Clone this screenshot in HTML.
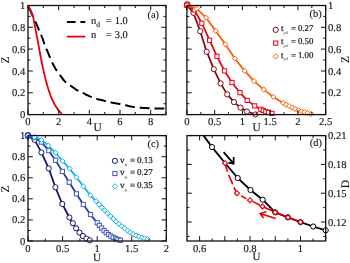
<!DOCTYPE html>
<html><head><meta charset="utf-8"><title>fig</title>
<style>html,body{margin:0;padding:0;background:#fff;}body{width:350px;height:263px;overflow:hidden;font-family:"Liberation Serif",serif;}svg{display:block;filter:blur(0.3px)}</style>
</head><body>
<svg width="350" height="263" viewBox="0 0 350 263" font-family="'Liberation Serif', serif" fill="#111" text-rendering="geometricPrecision">
<path d="M28.0 5.6 L28.4 6.5 L28.8 7.3 L29.2 8.2 L29.6 9.1 L30.0 10.0 L30.4 10.8 L30.8 11.7 L31.2 12.6 L31.6 13.5 L32.0 14.4 L32.4 15.2 L32.8 16.1 L33.2 17.0 L33.6 17.9 L34.0 18.7 L34.4 19.6 L34.8 20.5 L35.2 21.4 L35.6 22.2 L36.0 23.1 L36.4 24.0 L36.8 24.9 L37.2 25.7 L37.6 26.6 L37.9 27.5 L38.3 28.4 L38.7 29.3 L39.0 30.2 L39.4 31.1 L39.8 31.9 L40.2 32.8 L40.6 33.7 L41.0 34.6 L41.3 35.5 L41.7 36.4 L42.1 37.2 L42.4 38.1 L42.8 39.0 L43.1 39.9 L43.4 40.9 L43.7 41.8 L44.0 42.7 L44.3 43.6 L44.6 44.5 L44.9 45.4 L45.3 46.3 L45.7 47.2 L46.0 48.1 L46.4 49.0 L46.8 49.8 L47.2 50.7 L47.6 51.6 L48.0 52.5 L48.3 53.4 L48.7 54.3 L49.0 55.2 L49.4 56.1 L49.8 57.0 L50.1 57.8 L50.5 58.7 L50.9 59.6 L51.3 60.5 L51.7 61.4 L52.1 62.2 L52.5 63.1 L52.9 64.0 L53.4 64.8 L53.8 65.7 L54.3 66.5 L54.7 67.4 L55.2 68.2 L55.7 69.0 L56.2 69.9 L56.7 70.7 L57.3 71.4 L57.8 72.2 L58.4 73.0 L59.0 73.8 L59.5 74.5 L60.1 75.3 L60.7 76.1 L61.3 76.9 L61.9 77.6 L62.4 78.4 L63.0 79.2 L63.6 80.0 L64.2 80.7 L64.8 81.4 L65.5 82.0 L66.2 82.6 L67.0 83.2 L67.8 83.8 L68.6 84.3 L69.4 84.9 L70.2 85.4 L71.0 86.0 L71.8 86.5 L72.6 87.1 L73.4 87.6 L74.2 88.2 L75.0 88.8 L75.7 89.3 L76.6 89.8 L77.4 90.3 L78.2 90.7 L79.1 91.2 L80.0 91.6 L80.8 92.0 L81.7 92.4 L82.6 92.8 L83.5 93.2 L84.3 93.7 L85.2 94.1 L86.0 94.6 L86.9 95.0 L87.8 95.4 L88.6 95.8 L89.5 96.2 L90.4 96.6 L91.3 96.9 L92.2 97.3 L93.1 97.7 L94.0 98.0 L94.9 98.3 L95.8 98.6 L96.7 98.9 L97.6 99.2 L98.6 99.4 L99.5 99.6 L100.5 99.8 L101.4 100.0 L102.3 100.2 L103.3 100.4 L104.2 100.7 L105.1 100.9 L106.1 101.2 L107.0 101.4 L107.9 101.7 L108.8 101.9 L109.8 102.2 L110.7 102.4 L111.7 102.6 L112.6 102.8 L113.5 102.9 L114.5 103.1 L115.4 103.3 L116.4 103.4 L117.3 103.6 L118.3 103.8 L119.2 103.9 L120.2 104.1 L121.1 104.3 L122.1 104.5 L123.0 104.7 L124.0 104.9 L124.9 105.1 L125.8 105.3 L126.8 105.5 L127.7 105.8 L128.6 106.0 L129.6 106.2 L130.5 106.4 L131.5 106.6 L132.4 106.7 L133.4 106.9 L134.3 107.0 L135.3 107.1 L136.2 107.2 L137.2 107.4 L138.1 107.5 L139.1 107.6 L140.0 107.7 L141.0 107.7 L142.0 107.8 L142.9 107.9 L143.9 108.0 L144.8 108.0 L145.8 108.1 L146.8 108.1 L147.7 108.2 L148.7 108.2 L149.6 108.3 L150.6 108.3 L151.6 108.4 L152.5 108.4 L153.5 108.4 L154.5 108.4 L155.4 108.5 L156.4 108.5 L157.3 108.5 L158.3 108.5 L159.3 108.5 L160.2 108.5 L161.2 108.5 L162.2 108.5 L163.1 108.5 L164.1 108.4 L165.0 108.4 L166.0 108.4" fill="none" stroke="#000" stroke-width="2.0" stroke-dasharray="9.9 4.9" stroke-dashoffset="12.28"/>
<path d="M28.0 5.6 L28.8 6.8 L29.5 8.1 L30.2 9.4 L30.8 10.7 L31.4 12.0 L31.9 13.4 L32.4 14.8 L32.9 16.1 L33.3 17.5 L33.6 18.9 L33.9 20.4 L34.1 21.8 L34.4 23.2 L34.6 24.7 L34.9 26.1 L35.2 27.5 L35.5 29.0 L35.7 30.4 L36.0 31.8 L36.3 33.2 L36.5 34.7 L36.8 36.1 L37.1 37.5 L37.4 39.0 L37.6 40.4 L37.9 41.8 L38.2 43.2 L38.4 44.7 L38.7 46.1 L38.9 47.5 L39.2 49.0 L39.5 50.4 L39.7 51.8 L40.0 53.3 L40.3 54.7 L40.5 56.1 L40.8 57.5 L41.1 59.0 L41.4 60.4 L41.6 61.8 L41.9 63.2 L42.2 64.7 L42.5 66.1 L42.8 67.5 L43.2 68.9 L43.5 70.4 L43.8 71.8 L44.1 73.2 L44.4 74.6 L44.8 76.0 L45.1 77.5 L45.5 78.9 L45.8 80.3 L46.2 81.7 L46.6 83.1 L47.0 84.5 L47.4 85.9 L47.8 87.3 L48.2 88.6 L48.7 90.0 L49.1 91.4 L49.6 92.8 L50.1 94.2 L50.6 95.6 L51.1 96.9 L51.7 98.3 L52.3 99.6 L52.9 100.9 L53.5 102.2 L54.1 103.5 L54.8 104.8 L55.6 106.0 L56.4 107.2 L57.2 108.4 L58.1 109.6 L59.0 110.7 L59.9 111.9 L60.9 112.9 L61.9 114.0" fill="none" stroke="#e6000d" stroke-width="1.8"/>
<path d="M66.9 21.9 H75.6 M80.4 21.9 H85.3" stroke="#000" stroke-width="2.0" fill="none"/>
<path d="M66.9 36.6 H85.3" stroke="#e6000d" stroke-width="1.8" fill="none"/>
<rect x="28.0" y="5.5" width="138.0" height="109.1" fill="none" stroke="#111" stroke-width="1.3"/>
<path d="M28.0 114.6 v-4.8 M28.0 5.5 v4.8 M58.7 114.6 v-4.8 M58.7 5.5 v4.8 M89.3 114.6 v-4.8 M89.3 5.5 v4.8 M120.0 114.6 v-4.8 M120.0 5.5 v4.8 M150.7 114.6 v-4.8 M150.7 5.5 v4.8 M43.3 114.6 v-2.5 M43.3 5.5 v2.5 M74.0 114.6 v-2.5 M74.0 5.5 v2.5 M104.7 114.6 v-2.5 M104.7 5.5 v2.5 M135.3 114.6 v-2.5 M135.3 5.5 v2.5 M166.0 114.6 v-2.5 M166.0 5.5 v2.5 M28.0 114.6 h4.8 M166.0 114.6 h-4.8 M28.0 92.8 h4.8 M166.0 92.8 h-4.8 M28.0 71.0 h4.8 M166.0 71.0 h-4.8 M28.0 49.1 h4.8 M166.0 49.1 h-4.8 M28.0 27.3 h4.8 M166.0 27.3 h-4.8 M28.0 5.5 h4.8 M166.0 5.5 h-4.8 M28.0 103.7 h2.5 M166.0 103.7 h-2.5 M28.0 81.9 h2.5 M166.0 81.9 h-2.5 M28.0 60.0 h2.5 M166.0 60.0 h-2.5 M28.0 38.2 h2.5 M166.0 38.2 h-2.5 M28.0 16.4 h2.5 M166.0 16.4 h-2.5" stroke="#111" stroke-width="1.0" fill="none"/>
<text x="25.3" y="9.0" text-anchor="end" font-size="10.6" stroke="#111" stroke-width="0.12" >1</text>
<text x="25.3" y="30.8" text-anchor="end" font-size="10.6" stroke="#111" stroke-width="0.12" >0.8</text>
<text x="25.3" y="52.6" text-anchor="end" font-size="10.6" stroke="#111" stroke-width="0.12" >0.6</text>
<text x="25.3" y="74.5" text-anchor="end" font-size="10.6" stroke="#111" stroke-width="0.12" >0.4</text>
<text x="25.3" y="96.3" text-anchor="end" font-size="10.6" stroke="#111" stroke-width="0.12" >0.2</text>
<text x="25.3" y="118.1" text-anchor="end" font-size="10.6" stroke="#111" stroke-width="0.12" >0</text>
<text x="28.0" y="124.8" text-anchor="middle" font-size="10.6" stroke="#111" stroke-width="0.12" >0</text>
<text x="58.7" y="124.8" text-anchor="middle" font-size="10.6" stroke="#111" stroke-width="0.12" >2</text>
<text x="89.3" y="124.8" text-anchor="middle" font-size="10.6" stroke="#111" stroke-width="0.12" >4</text>
<text x="120.0" y="124.8" text-anchor="middle" font-size="10.6" stroke="#111" stroke-width="0.12" >6</text>
<text x="150.7" y="124.8" text-anchor="middle" font-size="10.6" stroke="#111" stroke-width="0.12" >8</text>
<text x="97.6" y="131.2" text-anchor="middle" font-size="11.3" stroke="#111" stroke-width="0.12" >U</text>
<text x="0.0" y="0.0" text-anchor="middle" font-size="11.5" stroke="#111" stroke-width="0.12" transform="translate(9.3 60) rotate(-90)">Z</text>
<text x="90.9" y="23.8" text-anchor="start" font-size="10.5" stroke="#111" stroke-width="0.12" >n<tspan font-size="7.5" dy="3.6">d</tspan></text>
<text x="105.8" y="23.8" text-anchor="start" font-size="10.5" stroke="#111" stroke-width="0.12" >=</text>
<text x="114.7" y="23.8" text-anchor="start" font-size="10.5" stroke="#111" stroke-width="0.12" >1.0</text>
<text x="90.9" y="38.0" text-anchor="start" font-size="10.5" stroke="#111" stroke-width="0.12" >n</text>
<text x="105.8" y="38.0" text-anchor="start" font-size="10.5" stroke="#111" stroke-width="0.12" >=</text>
<text x="114.7" y="38.0" text-anchor="start" font-size="10.5" stroke="#111" stroke-width="0.12" >3.0</text>
<text x="153.2" y="18.3" text-anchor="middle" font-size="10.4" stroke="#111" stroke-width="0.12" >(a)</text>
<path d="M186.9 5.3 L193.4 12.9 L200.2 31.2 L206.7 51.7 L213.8 69.2 L220.6 83.4 L227.2 94.4 L234.0 102.1 L240.5 107.6 L246.9 111.5 L255.5 114.4" fill="none" stroke="#800810" stroke-width="1.75" stroke-linejoin="round"/>
<circle cx="186.9" cy="5.3" r="2.6" fill="#fff" stroke="#800810" stroke-width="1.0"/>
<circle cx="193.4" cy="12.9" r="2.6" fill="#fff" stroke="#800810" stroke-width="1.0"/>
<circle cx="200.2" cy="31.2" r="2.6" fill="#fff" stroke="#800810" stroke-width="1.0"/>
<circle cx="206.7" cy="51.7" r="2.6" fill="#fff" stroke="#800810" stroke-width="1.0"/>
<circle cx="213.8" cy="69.2" r="2.6" fill="#fff" stroke="#800810" stroke-width="1.0"/>
<circle cx="220.6" cy="83.4" r="2.6" fill="#fff" stroke="#800810" stroke-width="1.0"/>
<circle cx="227.2" cy="94.4" r="2.6" fill="#fff" stroke="#800810" stroke-width="1.0"/>
<circle cx="234.0" cy="102.1" r="2.6" fill="#fff" stroke="#800810" stroke-width="1.0"/>
<circle cx="240.5" cy="107.6" r="2.6" fill="#fff" stroke="#800810" stroke-width="1.0"/>
<circle cx="246.9" cy="111.5" r="2.6" fill="#fff" stroke="#800810" stroke-width="1.0"/>
<circle cx="255.5" cy="114.4" r="2.6" fill="#fff" stroke="#800810" stroke-width="1.0"/>
<path d="M186.9 5.3 L194.4 9.9 L201.8 23.2 L209.6 40.3 L217.0 56.3 L224.5 70.9 L232.0 82.5 L240.0 92.7 L247.2 100.4 L254.7 105.9 L260.8 109.3 L263.3 110.4 L265.8 111.6 L268.4 112.4 L271.9 113.4" fill="none" stroke="#ea0018" stroke-width="1.75" stroke-linejoin="round"/>
<rect x="184.8" y="3.2" width="4.2" height="4.2" fill="#fff" stroke="#ea0018" stroke-width="1.0"/>
<rect x="192.3" y="7.8" width="4.2" height="4.2" fill="#fff" stroke="#ea0018" stroke-width="1.0"/>
<rect x="199.7" y="21.1" width="4.2" height="4.2" fill="#fff" stroke="#ea0018" stroke-width="1.0"/>
<rect x="207.5" y="38.2" width="4.2" height="4.2" fill="#fff" stroke="#ea0018" stroke-width="1.0"/>
<rect x="214.9" y="54.2" width="4.2" height="4.2" fill="#fff" stroke="#ea0018" stroke-width="1.0"/>
<rect x="222.4" y="68.8" width="4.2" height="4.2" fill="#fff" stroke="#ea0018" stroke-width="1.0"/>
<rect x="229.9" y="80.4" width="4.2" height="4.2" fill="#fff" stroke="#ea0018" stroke-width="1.0"/>
<rect x="237.9" y="90.6" width="4.2" height="4.2" fill="#fff" stroke="#ea0018" stroke-width="1.0"/>
<rect x="245.1" y="98.3" width="4.2" height="4.2" fill="#fff" stroke="#ea0018" stroke-width="1.0"/>
<rect x="252.6" y="103.8" width="4.2" height="4.2" fill="#fff" stroke="#ea0018" stroke-width="1.0"/>
<rect x="258.7" y="107.2" width="4.2" height="4.2" fill="#fff" stroke="#ea0018" stroke-width="1.0"/>
<rect x="261.2" y="108.3" width="4.2" height="4.2" fill="#fff" stroke="#ea0018" stroke-width="1.0"/>
<rect x="263.7" y="109.5" width="4.2" height="4.2" fill="#fff" stroke="#ea0018" stroke-width="1.0"/>
<rect x="266.3" y="110.3" width="4.2" height="4.2" fill="#fff" stroke="#ea0018" stroke-width="1.0"/>
<rect x="269.8" y="111.3" width="4.2" height="4.2" fill="#fff" stroke="#ea0018" stroke-width="1.0"/>
<path d="M186.9 5.3 L196.6 8.6 L206.1 17.7 L215.7 30.9 L225.3 44.3 L234.8 58.5 L244.7 70.9 L254.0 81.1 L263.8 89.6 L273.4 96.9 L283.1 103.0 L286.2 104.7 L289.2 106.1 L292.3 107.6 L295.1 108.9 L298.3 110.2 L301.4 111.3 L304.3 112.1 L307.5 112.9 L311.1 113.9" fill="none" stroke="#f55f00" stroke-width="1.75" stroke-linejoin="round"/>
<path d="M184.3 5.3 L186.9 2.7 L189.5 5.3 L186.9 7.9 Z" fill="#fff" stroke="#f55f00" stroke-width="1.0"/>
<path d="M194.0 8.6 L196.6 6.0 L199.2 8.6 L196.6 11.2 Z" fill="#fff" stroke="#f55f00" stroke-width="1.0"/>
<path d="M203.5 17.7 L206.1 15.1 L208.7 17.7 L206.1 20.3 Z" fill="#fff" stroke="#f55f00" stroke-width="1.0"/>
<path d="M213.1 30.9 L215.7 28.3 L218.3 30.9 L215.7 33.5 Z" fill="#fff" stroke="#f55f00" stroke-width="1.0"/>
<path d="M222.7 44.3 L225.3 41.7 L227.9 44.3 L225.3 46.9 Z" fill="#fff" stroke="#f55f00" stroke-width="1.0"/>
<path d="M232.2 58.5 L234.8 55.9 L237.4 58.5 L234.8 61.1 Z" fill="#fff" stroke="#f55f00" stroke-width="1.0"/>
<path d="M242.1 70.9 L244.7 68.3 L247.3 70.9 L244.7 73.5 Z" fill="#fff" stroke="#f55f00" stroke-width="1.0"/>
<path d="M251.4 81.1 L254.0 78.5 L256.6 81.1 L254.0 83.7 Z" fill="#fff" stroke="#f55f00" stroke-width="1.0"/>
<path d="M261.2 89.6 L263.8 87.0 L266.4 89.6 L263.8 92.2 Z" fill="#fff" stroke="#f55f00" stroke-width="1.0"/>
<path d="M270.8 96.9 L273.4 94.3 L276.0 96.9 L273.4 99.5 Z" fill="#fff" stroke="#f55f00" stroke-width="1.0"/>
<path d="M280.5 103.0 L283.1 100.4 L285.7 103.0 L283.1 105.6 Z" fill="#fff" stroke="#f55f00" stroke-width="1.0"/>
<path d="M283.6 104.7 L286.2 102.1 L288.8 104.7 L286.2 107.3 Z" fill="#fff" stroke="#f55f00" stroke-width="1.0"/>
<path d="M286.6 106.1 L289.2 103.5 L291.8 106.1 L289.2 108.7 Z" fill="#fff" stroke="#f55f00" stroke-width="1.0"/>
<path d="M289.7 107.6 L292.3 105.0 L294.9 107.6 L292.3 110.2 Z" fill="#fff" stroke="#f55f00" stroke-width="1.0"/>
<path d="M292.5 108.9 L295.1 106.3 L297.7 108.9 L295.1 111.5 Z" fill="#fff" stroke="#f55f00" stroke-width="1.0"/>
<path d="M295.7 110.2 L298.3 107.6 L300.9 110.2 L298.3 112.8 Z" fill="#fff" stroke="#f55f00" stroke-width="1.0"/>
<path d="M298.8 111.3 L301.4 108.7 L304.0 111.3 L301.4 113.9 Z" fill="#fff" stroke="#f55f00" stroke-width="1.0"/>
<path d="M301.7 112.1 L304.3 109.5 L306.9 112.1 L304.3 114.7 Z" fill="#fff" stroke="#f55f00" stroke-width="1.0"/>
<path d="M304.9 112.9 L307.5 110.3 L310.1 112.9 L307.5 115.5 Z" fill="#fff" stroke="#f55f00" stroke-width="1.0"/>
<path d="M308.5 113.9 L311.1 111.3 L313.7 113.9 L311.1 116.5 Z" fill="#fff" stroke="#f55f00" stroke-width="1.0"/>
<circle cx="187.2" cy="4.6" r="2.7" fill="none" stroke="#f01810" stroke-width="1.1"/>
<rect x="186.9" y="5.5" width="138.8" height="109.1" fill="none" stroke="#111" stroke-width="1.3"/>
<path d="M186.9 114.6 v-4.8 M186.9 5.5 v4.8 M214.7 114.6 v-4.8 M214.7 5.5 v4.8 M242.4 114.6 v-4.8 M242.4 5.5 v4.8 M270.2 114.6 v-4.8 M270.2 5.5 v4.8 M297.9 114.6 v-4.8 M297.9 5.5 v4.8 M325.7 114.6 v-4.8 M325.7 5.5 v4.8 M200.8 114.6 v-2.5 M200.8 5.5 v2.5 M228.5 114.6 v-2.5 M228.5 5.5 v2.5 M256.3 114.6 v-2.5 M256.3 5.5 v2.5 M284.1 114.6 v-2.5 M284.1 5.5 v2.5 M311.8 114.6 v-2.5 M311.8 5.5 v2.5 M186.9 114.6 h4.8 M325.7 114.6 h-4.8 M186.9 92.8 h4.8 M325.7 92.8 h-4.8 M186.9 71.0 h4.8 M325.7 71.0 h-4.8 M186.9 49.1 h4.8 M325.7 49.1 h-4.8 M186.9 27.3 h4.8 M325.7 27.3 h-4.8 M186.9 5.5 h4.8 M325.7 5.5 h-4.8 M186.9 103.7 h2.5 M325.7 103.7 h-2.5 M186.9 81.9 h2.5 M325.7 81.9 h-2.5 M186.9 60.0 h2.5 M325.7 60.0 h-2.5 M186.9 38.2 h2.5 M325.7 38.2 h-2.5 M186.9 16.4 h2.5 M325.7 16.4 h-2.5" stroke="#111" stroke-width="1.0" fill="none"/>
<text x="328.0" y="9.0" text-anchor="start" font-size="10.6" stroke="#111" stroke-width="0.12" >1</text>
<text x="328.0" y="30.8" text-anchor="start" font-size="10.6" stroke="#111" stroke-width="0.12" >0.8</text>
<text x="328.0" y="52.6" text-anchor="start" font-size="10.6" stroke="#111" stroke-width="0.12" >0.6</text>
<text x="328.0" y="74.5" text-anchor="start" font-size="10.6" stroke="#111" stroke-width="0.12" >0.4</text>
<text x="328.0" y="96.3" text-anchor="start" font-size="10.6" stroke="#111" stroke-width="0.12" >0.2</text>
<text x="186.9" y="124.8" text-anchor="middle" font-size="10.6" stroke="#111" stroke-width="0.12" >0</text>
<text x="214.7" y="124.8" text-anchor="middle" font-size="10.6" stroke="#111" stroke-width="0.12" >0.5</text>
<text x="242.4" y="124.8" text-anchor="middle" font-size="10.6" stroke="#111" stroke-width="0.12" >1</text>
<text x="270.2" y="124.8" text-anchor="middle" font-size="10.6" stroke="#111" stroke-width="0.12" >1.5</text>
<text x="297.9" y="124.8" text-anchor="middle" font-size="10.6" stroke="#111" stroke-width="0.12" >2</text>
<text x="325.7" y="124.8" text-anchor="middle" font-size="10.6" stroke="#111" stroke-width="0.12" >2.5</text>
<text x="256.7" y="131.2" text-anchor="middle" font-size="11.3" stroke="#111" stroke-width="0.12" >U</text>
<text x="0.0" y="0.0" text-anchor="middle" font-size="11.5" stroke="#111" stroke-width="0.12" transform="translate(348.6 59.5) rotate(-90)">Z</text>
<circle cx="275.7" cy="29.9" r="2.6" fill="#fff" stroke="#800810" stroke-width="1.0"/>
<rect x="273.6" y="41.0" width="4.2" height="4.2" fill="#fff" stroke="#ea0018" stroke-width="1.0"/>
<path d="M273.1 56.4 L275.7 53.8 L278.3 56.4 L275.7 59.0 Z" fill="#fff" stroke="#f55f00" stroke-width="1.0"/>
<text x="281.0" y="30.9" text-anchor="start" font-size="8.8" stroke="#111" stroke-width="0.2" >t<tspan font-size="4.5" dy="2.6" fill="#444" stroke-width="0">pd</tspan></text>
<text x="291.0" y="30.9" text-anchor="start" font-size="8.8" stroke="#111" stroke-width="0.2" >=</text>
<text x="297.9" y="30.9" text-anchor="start" font-size="8.8" stroke="#111" stroke-width="0.2" >0.27</text>
<text x="281.0" y="44.1" text-anchor="start" font-size="8.8" stroke="#111" stroke-width="0.2" >t<tspan font-size="4.5" dy="2.6" fill="#444" stroke-width="0">pd</tspan></text>
<text x="291.0" y="44.1" text-anchor="start" font-size="8.8" stroke="#111" stroke-width="0.2" >=</text>
<text x="297.9" y="44.1" text-anchor="start" font-size="8.8" stroke="#111" stroke-width="0.2" >0.50</text>
<text x="281.0" y="57.5" text-anchor="start" font-size="8.8" stroke="#111" stroke-width="0.2" >t<tspan font-size="4.5" dy="2.6" fill="#444" stroke-width="0">pd</tspan></text>
<text x="291.0" y="57.5" text-anchor="start" font-size="8.8" stroke="#111" stroke-width="0.2" >=</text>
<text x="297.9" y="57.5" text-anchor="start" font-size="8.8" stroke="#111" stroke-width="0.2" >1.00</text>
<text x="315.6" y="17.0" text-anchor="middle" font-size="10.4" stroke="#111" stroke-width="0.12" >(b)</text>
<path d="M27.8 135.8 L34.6 139.9 L41.4 152.4 L48.7 168.4 L55.4 187.3 L62.3 204.0 L69.4 217.5 L72.8 223.2 L76.1 228.3 L79.5 232.6 L82.9 236.0 L86.4 238.6 L89.8 240.3" fill="none" stroke="#12126e" stroke-width="1.75" stroke-linejoin="round"/>
<circle cx="27.8" cy="135.8" r="2.6" fill="#fff" stroke="#12126e" stroke-width="1.0"/>
<circle cx="34.6" cy="139.9" r="2.6" fill="#fff" stroke="#12126e" stroke-width="1.0"/>
<circle cx="41.4" cy="152.4" r="2.6" fill="#fff" stroke="#12126e" stroke-width="1.0"/>
<circle cx="48.7" cy="168.4" r="2.6" fill="#fff" stroke="#12126e" stroke-width="1.0"/>
<circle cx="55.4" cy="187.3" r="2.6" fill="#fff" stroke="#12126e" stroke-width="1.0"/>
<circle cx="62.3" cy="204.0" r="2.6" fill="#fff" stroke="#12126e" stroke-width="1.0"/>
<circle cx="69.4" cy="217.5" r="2.6" fill="#fff" stroke="#12126e" stroke-width="1.0"/>
<circle cx="72.8" cy="223.2" r="2.6" fill="#fff" stroke="#12126e" stroke-width="1.0"/>
<circle cx="76.1" cy="228.3" r="2.6" fill="#fff" stroke="#12126e" stroke-width="1.0"/>
<circle cx="79.5" cy="232.6" r="2.6" fill="#fff" stroke="#12126e" stroke-width="1.0"/>
<circle cx="82.9" cy="236.0" r="2.6" fill="#fff" stroke="#12126e" stroke-width="1.0"/>
<circle cx="86.4" cy="238.6" r="2.6" fill="#fff" stroke="#12126e" stroke-width="1.0"/>
<circle cx="89.8" cy="240.3" r="2.6" fill="#fff" stroke="#12126e" stroke-width="1.0"/>
<path d="M27.8 135.8 L34.6 137.6 L41.4 142.1 L48.8 150.7 L55.5 160.2 L62.4 171.4 L69.2 182.2 L76.4 193.8 L83.3 204.5 L90.5 214.6 L97.2 222.8 L99.4 225.4 L101.7 228.1 L104.1 230.6 L106.3 232.7 L108.5 234.5 L110.8 236.0 L113.2 237.3 L115.7 238.5 L118.0 239.5 L120.3 240.3" fill="none" stroke="#2038a0" stroke-width="1.75" stroke-linejoin="round"/>
<rect x="25.7" y="133.7" width="4.2" height="4.2" fill="#fff" stroke="#4358b8" stroke-width="1.0"/>
<rect x="32.5" y="135.5" width="4.2" height="4.2" fill="#fff" stroke="#4358b8" stroke-width="1.0"/>
<rect x="39.3" y="140.0" width="4.2" height="4.2" fill="#fff" stroke="#4358b8" stroke-width="1.0"/>
<rect x="46.7" y="148.6" width="4.2" height="4.2" fill="#fff" stroke="#4358b8" stroke-width="1.0"/>
<rect x="53.4" y="158.1" width="4.2" height="4.2" fill="#fff" stroke="#4358b8" stroke-width="1.0"/>
<rect x="60.3" y="169.3" width="4.2" height="4.2" fill="#fff" stroke="#4358b8" stroke-width="1.0"/>
<rect x="67.1" y="180.1" width="4.2" height="4.2" fill="#fff" stroke="#4358b8" stroke-width="1.0"/>
<rect x="74.3" y="191.7" width="4.2" height="4.2" fill="#fff" stroke="#4358b8" stroke-width="1.0"/>
<rect x="81.2" y="202.4" width="4.2" height="4.2" fill="#fff" stroke="#4358b8" stroke-width="1.0"/>
<rect x="88.4" y="212.5" width="4.2" height="4.2" fill="#fff" stroke="#4358b8" stroke-width="1.0"/>
<rect x="95.1" y="220.7" width="4.2" height="4.2" fill="#fff" stroke="#4358b8" stroke-width="1.0"/>
<rect x="97.3" y="223.3" width="4.2" height="4.2" fill="#fff" stroke="#4358b8" stroke-width="1.0"/>
<rect x="99.6" y="226.0" width="4.2" height="4.2" fill="#fff" stroke="#4358b8" stroke-width="1.0"/>
<rect x="102.0" y="228.5" width="4.2" height="4.2" fill="#fff" stroke="#4358b8" stroke-width="1.0"/>
<rect x="104.2" y="230.6" width="4.2" height="4.2" fill="#fff" stroke="#4358b8" stroke-width="1.0"/>
<rect x="106.4" y="232.4" width="4.2" height="4.2" fill="#fff" stroke="#4358b8" stroke-width="1.0"/>
<rect x="108.7" y="233.9" width="4.2" height="4.2" fill="#fff" stroke="#4358b8" stroke-width="1.0"/>
<rect x="111.1" y="235.2" width="4.2" height="4.2" fill="#fff" stroke="#4358b8" stroke-width="1.0"/>
<rect x="113.6" y="236.4" width="4.2" height="4.2" fill="#fff" stroke="#4358b8" stroke-width="1.0"/>
<rect x="115.9" y="237.4" width="4.2" height="4.2" fill="#fff" stroke="#4358b8" stroke-width="1.0"/>
<rect x="118.2" y="238.2" width="4.2" height="4.2" fill="#fff" stroke="#4358b8" stroke-width="1.0"/>
<path d="M27.8 135.8 L34.6 136.8 L41.4 139.9 L48.3 145.6 L55.5 152.8 L62.5 161.0 L69.6 168.6 L76.4 177.3 L83.4 186.4 L90.3 195.3 L96.2 201.2 L99.0 204.4 L101.9 207.4 L104.7 210.4 L107.6 213.3 L110.4 216.1 L113.3 218.9 L116.1 221.5 L119.0 223.9 L121.8 226.2 L124.7 228.4 L127.5 230.5 L130.4 232.5 L133.2 234.1 L136.1 235.5 L138.9 236.7 L141.8 237.6 L144.6 238.5 L147.5 239.2" fill="none" stroke="#12b0e8" stroke-width="1.75" stroke-linejoin="round"/>
<path d="M25.2 135.8 L27.8 133.2 L30.4 135.8 L27.8 138.4 Z" fill="#fff" stroke="#12b0e8" stroke-width="1.0"/>
<path d="M32.0 136.8 L34.6 134.2 L37.2 136.8 L34.6 139.4 Z" fill="#fff" stroke="#12b0e8" stroke-width="1.0"/>
<path d="M38.8 139.9 L41.4 137.3 L44.0 139.9 L41.4 142.5 Z" fill="#fff" stroke="#12b0e8" stroke-width="1.0"/>
<path d="M45.7 145.6 L48.3 143.0 L50.9 145.6 L48.3 148.2 Z" fill="#fff" stroke="#12b0e8" stroke-width="1.0"/>
<path d="M52.9 152.8 L55.5 150.2 L58.1 152.8 L55.5 155.4 Z" fill="#fff" stroke="#12b0e8" stroke-width="1.0"/>
<path d="M59.9 161.0 L62.5 158.4 L65.1 161.0 L62.5 163.6 Z" fill="#fff" stroke="#12b0e8" stroke-width="1.0"/>
<path d="M67.0 168.6 L69.6 166.0 L72.2 168.6 L69.6 171.2 Z" fill="#fff" stroke="#12b0e8" stroke-width="1.0"/>
<path d="M73.8 177.3 L76.4 174.7 L79.0 177.3 L76.4 179.9 Z" fill="#fff" stroke="#12b0e8" stroke-width="1.0"/>
<path d="M80.8 186.4 L83.4 183.8 L86.0 186.4 L83.4 189.0 Z" fill="#fff" stroke="#12b0e8" stroke-width="1.0"/>
<path d="M87.7 195.3 L90.3 192.7 L92.9 195.3 L90.3 197.9 Z" fill="#fff" stroke="#12b0e8" stroke-width="1.0"/>
<path d="M93.6 201.2 L96.2 198.6 L98.8 201.2 L96.2 203.8 Z" fill="#fff" stroke="#12b0e8" stroke-width="1.0"/>
<path d="M96.5 204.4 L99.0 201.8 L101.6 204.4 L99.0 207.0 Z" fill="#fff" stroke="#12b0e8" stroke-width="1.0"/>
<path d="M99.3 207.4 L101.9 204.8 L104.5 207.4 L101.9 210.0 Z" fill="#fff" stroke="#12b0e8" stroke-width="1.0"/>
<path d="M102.1 210.4 L104.7 207.8 L107.3 210.4 L104.7 213.0 Z" fill="#fff" stroke="#12b0e8" stroke-width="1.0"/>
<path d="M105.0 213.3 L107.6 210.7 L110.2 213.3 L107.6 215.9 Z" fill="#fff" stroke="#12b0e8" stroke-width="1.0"/>
<path d="M107.8 216.1 L110.4 213.5 L113.0 216.1 L110.4 218.7 Z" fill="#fff" stroke="#12b0e8" stroke-width="1.0"/>
<path d="M110.7 218.9 L113.3 216.3 L115.9 218.9 L113.3 221.5 Z" fill="#fff" stroke="#12b0e8" stroke-width="1.0"/>
<path d="M113.5 221.5 L116.1 218.9 L118.7 221.5 L116.1 224.1 Z" fill="#fff" stroke="#12b0e8" stroke-width="1.0"/>
<path d="M116.4 223.9 L119.0 221.3 L121.6 223.9 L119.0 226.5 Z" fill="#fff" stroke="#12b0e8" stroke-width="1.0"/>
<path d="M119.2 226.2 L121.8 223.6 L124.4 226.2 L121.8 228.8 Z" fill="#fff" stroke="#12b0e8" stroke-width="1.0"/>
<path d="M122.1 228.4 L124.7 225.8 L127.3 228.4 L124.7 231.0 Z" fill="#fff" stroke="#12b0e8" stroke-width="1.0"/>
<path d="M124.9 230.5 L127.5 227.9 L130.1 230.5 L127.5 233.1 Z" fill="#fff" stroke="#12b0e8" stroke-width="1.0"/>
<path d="M127.8 232.5 L130.4 229.9 L133.0 232.5 L130.4 235.1 Z" fill="#fff" stroke="#12b0e8" stroke-width="1.0"/>
<path d="M130.6 234.1 L133.2 231.5 L135.8 234.1 L133.2 236.7 Z" fill="#fff" stroke="#12b0e8" stroke-width="1.0"/>
<path d="M133.5 235.5 L136.1 232.9 L138.7 235.5 L136.1 238.1 Z" fill="#fff" stroke="#12b0e8" stroke-width="1.0"/>
<path d="M136.3 236.7 L138.9 234.1 L141.5 236.7 L138.9 239.3 Z" fill="#fff" stroke="#12b0e8" stroke-width="1.0"/>
<path d="M139.2 237.6 L141.8 235.0 L144.4 237.6 L141.8 240.2 Z" fill="#fff" stroke="#12b0e8" stroke-width="1.0"/>
<path d="M142.0 238.5 L144.6 235.9 L147.2 238.5 L144.6 241.1 Z" fill="#fff" stroke="#12b0e8" stroke-width="1.0"/>
<path d="M144.9 239.2 L147.5 236.6 L150.1 239.2 L147.5 241.8 Z" fill="#fff" stroke="#12b0e8" stroke-width="1.0"/>
<circle cx="28.0" cy="135.2" r="2.7" fill="none" stroke="#2848c8" stroke-width="1.1"/>
<rect x="28.0" y="135.6" width="138.3" height="105.4" fill="none" stroke="#111" stroke-width="1.3"/>
<path d="M28.0 241.0 v-4.8 M28.0 135.6 v4.8 M62.6 241.0 v-4.8 M62.6 135.6 v4.8 M97.2 241.0 v-4.8 M97.2 135.6 v4.8 M131.7 241.0 v-4.8 M131.7 135.6 v4.8 M166.3 241.0 v-4.8 M166.3 135.6 v4.8 M45.3 241.0 v-2.5 M45.3 135.6 v2.5 M79.9 241.0 v-2.5 M79.9 135.6 v2.5 M114.4 241.0 v-2.5 M114.4 135.6 v2.5 M149.0 241.0 v-2.5 M149.0 135.6 v2.5 M28.0 241.0 h4.8 M166.3 241.0 h-4.8 M28.0 219.9 h4.8 M166.3 219.9 h-4.8 M28.0 198.8 h4.8 M166.3 198.8 h-4.8 M28.0 177.8 h4.8 M166.3 177.8 h-4.8 M28.0 156.7 h4.8 M166.3 156.7 h-4.8 M28.0 135.6 h4.8 M166.3 135.6 h-4.8 M28.0 230.5 h2.5 M166.3 230.5 h-2.5 M28.0 209.4 h2.5 M166.3 209.4 h-2.5 M28.0 188.3 h2.5 M166.3 188.3 h-2.5 M28.0 167.2 h2.5 M166.3 167.2 h-2.5 M28.0 146.1 h2.5 M166.3 146.1 h-2.5" stroke="#111" stroke-width="1.0" fill="none"/>
<text x="25.3" y="139.1" text-anchor="end" font-size="10.6" stroke="#111" stroke-width="0.12" >1</text>
<text x="25.3" y="160.2" text-anchor="end" font-size="10.6" stroke="#111" stroke-width="0.12" >0.8</text>
<text x="25.3" y="181.3" text-anchor="end" font-size="10.6" stroke="#111" stroke-width="0.12" >0.6</text>
<text x="25.3" y="202.3" text-anchor="end" font-size="10.6" stroke="#111" stroke-width="0.12" >0.4</text>
<text x="25.3" y="223.4" text-anchor="end" font-size="10.6" stroke="#111" stroke-width="0.12" >0.2</text>
<text x="25.3" y="244.5" text-anchor="end" font-size="10.6" stroke="#111" stroke-width="0.12" >0</text>
<text x="28.0" y="251.6" text-anchor="middle" font-size="10.6" stroke="#111" stroke-width="0.12" >0</text>
<text x="62.6" y="251.6" text-anchor="middle" font-size="10.6" stroke="#111" stroke-width="0.12" >0.5</text>
<text x="97.2" y="251.6" text-anchor="middle" font-size="10.6" stroke="#111" stroke-width="0.12" >1</text>
<text x="131.7" y="251.6" text-anchor="middle" font-size="10.6" stroke="#111" stroke-width="0.12" >1.5</text>
<text x="166.3" y="251.6" text-anchor="middle" font-size="10.6" stroke="#111" stroke-width="0.12" >2</text>
<text x="96.9" y="260.5" text-anchor="middle" font-size="11.0" stroke="#111" stroke-width="0.12" >U</text>
<text x="0.0" y="0.0" text-anchor="middle" font-size="11.5" stroke="#111" stroke-width="0.12" transform="translate(9.3 189) rotate(-90)">Z</text>
<circle cx="114.9" cy="160.9" r="2.6" fill="#fff" stroke="#12126e" stroke-width="1.0"/>
<rect x="112.8" y="171.4" width="4.2" height="4.2" fill="#fff" stroke="#4358b8" stroke-width="1.0"/>
<path d="M112.3 186.3 L114.9 183.7 L117.5 186.3 L114.9 188.9 Z" fill="#fff" stroke="#12b0e8" stroke-width="1.0"/>
<text x="120.1" y="162.6" text-anchor="start" font-size="9.0" stroke="#111" stroke-width="0.2" >v</text>
<circle cx="125.9" cy="164.9" r="1.2" fill="#999"/>
<text x="130.0" y="162.6" text-anchor="start" font-size="9.0" stroke="#111" stroke-width="0.2" >=</text>
<text x="136.9" y="162.6" text-anchor="start" font-size="9.0" stroke="#111" stroke-width="0.2" >0.13</text>
<text x="120.1" y="175.2" text-anchor="start" font-size="9.0" stroke="#111" stroke-width="0.2" >v</text>
<circle cx="125.9" cy="177.5" r="1.2" fill="#999"/>
<text x="130.0" y="175.2" text-anchor="start" font-size="9.0" stroke="#111" stroke-width="0.2" >=</text>
<text x="136.9" y="175.2" text-anchor="start" font-size="9.0" stroke="#111" stroke-width="0.2" >0.27</text>
<text x="120.1" y="188.1" text-anchor="start" font-size="9.0" stroke="#111" stroke-width="0.2" >v</text>
<circle cx="125.9" cy="190.4" r="1.2" fill="#999"/>
<text x="130.0" y="188.1" text-anchor="start" font-size="9.0" stroke="#111" stroke-width="0.2" >=</text>
<text x="136.9" y="188.1" text-anchor="start" font-size="9.0" stroke="#111" stroke-width="0.2" >0.35</text>
<text x="153.3" y="146.8" text-anchor="middle" font-size="10.4" stroke="#111" stroke-width="0.12" >(c)</text>
<path d="M203.6 135.6 L212.0 147.1 L225.0 163.0 L237.7 178.0 L250.5 190.0 L262.7 199.7 L275.2 212.3 L287.9 217.3 L300.5 222.1 L313.2 226.5 L325.7 230.3" fill="none" stroke="#000" stroke-width="1.8" stroke-linejoin="round"/>
<path d="M225 163.4 L227.6 171.7 M228.6 174.9 L232.8 184.3 M233.8 187.4 L237 193.3 M241.2 195.8 L246.4 198.9 M252.7 201.4 L260 205.2 M262.5 206.4 L275.2 212.3 L287.9 217.3 L300.5 222.1" fill="none" stroke="#e6000d" stroke-width="1.6"/>
<circle cx="212.0" cy="147.1" r="2.6" fill="#fff" stroke="#000" stroke-width="1.0"/>
<circle cx="237.7" cy="178.0" r="2.6" fill="#fff" stroke="#000" stroke-width="1.0"/>
<circle cx="250.5" cy="190.0" r="2.6" fill="#fff" stroke="#000" stroke-width="1.0"/>
<circle cx="262.7" cy="199.7" r="2.6" fill="#fff" stroke="#000" stroke-width="1.0"/>
<circle cx="275.2" cy="212.3" r="2.6" fill="#fff" stroke="#000" stroke-width="1.0"/>
<circle cx="287.9" cy="217.3" r="2.6" fill="#fff" stroke="#000" stroke-width="1.0"/>
<circle cx="300.5" cy="222.1" r="2.6" fill="#fff" stroke="#000" stroke-width="1.0"/>
<circle cx="313.2" cy="226.5" r="2.6" fill="#fff" stroke="#000" stroke-width="1.0"/>
<circle cx="325.7" cy="230.3" r="2.6" fill="#fff" stroke="#000" stroke-width="1.0"/>
<path d="M222.5 163.2 L225.0 160.7 L227.5 163.2 L225.0 165.7 Z" fill="#fff" stroke="#e6000d" stroke-width="1.1"/>
<path d="M234.5 193.2 L237.0 190.7 L239.5 193.2 L237.0 195.7 Z" fill="#fff" stroke="#e6000d" stroke-width="1.1"/>
<path d="M247.5 200.2 L250.0 197.7 L252.5 200.2 L250.0 202.7 Z" fill="#fff" stroke="#e6000d" stroke-width="1.1"/>
<path d="M260.0 206.4 L262.5 203.9 L265.0 206.4 L262.5 208.9 Z" fill="#fff" stroke="#e6000d" stroke-width="1.1"/>
<path d="M272.7 212.3 L275.2 209.8 L277.7 212.3 L275.2 214.8 Z" fill="#fff" stroke="#e6000d" stroke-width="1.1"/>
<path d="M285.4 217.3 L287.9 214.8 L290.4 217.3 L287.9 219.8 Z" fill="#fff" stroke="#e6000d" stroke-width="1.1"/>
<path d="M298.0 222.1 L300.5 219.6 L303.0 222.1 L300.5 224.6 Z" fill="#fff" stroke="#e6000d" stroke-width="1.1"/>
<path d="M223.6 152.1 L233.6 163.6 M233.7 157.0 L233.6 163.6 L228.4 162.7" fill="none" stroke="#000" stroke-width="1.75"/>
<path d="M275.7 218.6 L260.2 213.6 M266.4 211.4 L260.2 213.6 L263.6 217.9" fill="none" stroke="#e6000d" stroke-width="1.6"/>
<rect x="187.0" y="135.6" width="138.7" height="105.4" fill="none" stroke="#111" stroke-width="1.3"/>
<path d="M199.6 241.0 v-4.8 M199.6 135.6 v4.8 M224.8 241.0 v-4.8 M224.8 135.6 v4.8 M250.0 241.0 v-4.8 M250.0 135.6 v4.8 M275.3 241.0 v-4.8 M275.3 135.6 v4.8 M300.5 241.0 v-4.8 M300.5 135.6 v4.8 M325.7 241.0 v-4.8 M325.7 135.6 v4.8 M212.2 241.0 v-2.5 M212.2 135.6 v2.5 M237.4 241.0 v-2.5 M237.4 135.6 v2.5 M262.7 241.0 v-2.5 M262.7 135.6 v2.5 M287.9 241.0 v-2.5 M287.9 135.6 v2.5 M313.1 241.0 v-2.5 M313.1 135.6 v2.5 M187.0 135.6 h4.8 M325.7 135.6 h-4.8 M187.0 164.4 h4.8 M325.7 164.4 h-4.8 M187.0 193.2 h4.8 M325.7 193.2 h-4.8 M187.0 222.0 h4.8 M325.7 222.0 h-4.8 M187.0 150.0 h2.5 M325.7 150.0 h-2.5 M187.0 178.8 h2.5 M325.7 178.8 h-2.5 M187.0 207.6 h2.5 M325.7 207.6 h-2.5 M187.0 236.4 h2.5 M325.7 236.4 h-2.5" stroke="#111" stroke-width="1.0" fill="none"/>
<text x="328.0" y="139.1" text-anchor="start" font-size="10.6" stroke="#111" stroke-width="0.12" >0.21</text>
<text x="328.0" y="167.9" text-anchor="start" font-size="10.6" stroke="#111" stroke-width="0.12" >0.18</text>
<text x="328.0" y="196.7" text-anchor="start" font-size="10.6" stroke="#111" stroke-width="0.12" >0.15</text>
<text x="328.0" y="225.5" text-anchor="start" font-size="10.6" stroke="#111" stroke-width="0.12" >0.12</text>
<text x="199.6" y="251.6" text-anchor="middle" font-size="10.6" stroke="#111" stroke-width="0.12" >0.6</text>
<text x="250.0" y="251.6" text-anchor="middle" font-size="10.6" stroke="#111" stroke-width="0.12" >0.8</text>
<text x="300.5" y="251.6" text-anchor="middle" font-size="10.6" stroke="#111" stroke-width="0.12" >1</text>
<text x="256.5" y="260.4" text-anchor="middle" font-size="11.0" stroke="#111" stroke-width="0.12" >U</text>
<text x="0.0" y="0.0" text-anchor="middle" font-size="11.5" stroke="#111" stroke-width="0.12" transform="translate(348.6 184) rotate(-90)">D</text>
<text x="315.8" y="146.2" text-anchor="middle" font-size="10.4" stroke="#111" stroke-width="0.12" >(d)</text>
</svg>
</body></html>
